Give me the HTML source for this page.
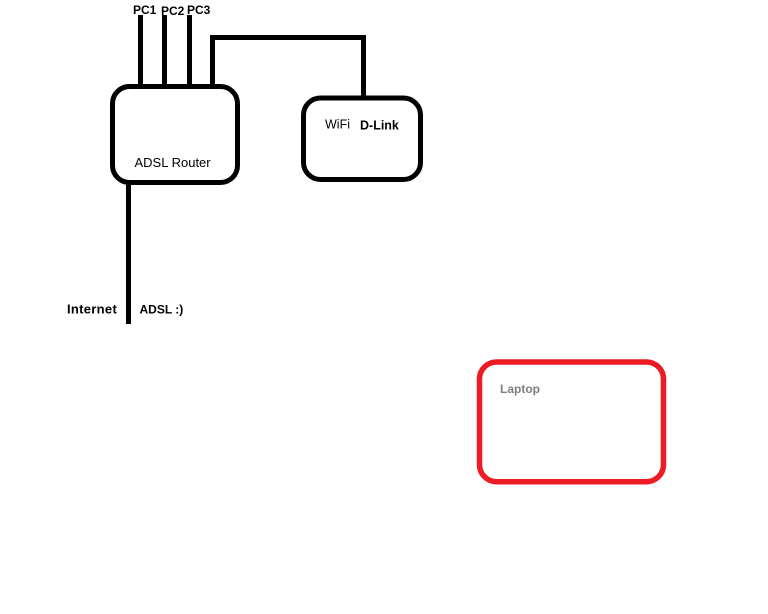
<!DOCTYPE html>
<html>
<head>
<meta charset="utf-8">
<style>
  html, body { margin: 0; padding: 0; background: #ffffff; }
  body { width: 768px; height: 614px; overflow: hidden; }
  svg { display: block; }
  text { font-family: "Liberation Sans", sans-serif; }
</style>
</head>
<body>
<svg width="768" height="614" viewBox="0 0 768 614" xmlns="http://www.w3.org/2000/svg">
  <rect x="0" y="0" width="768" height="614" fill="#ffffff"/>

  <!-- PC lines -->
  <line x1="140.5" y1="15" x2="140.5" y2="87" stroke="#000" stroke-width="5"/>
  <line x1="164.5" y1="15" x2="164.5" y2="87" stroke="#000" stroke-width="5"/>
  <line x1="189.5" y1="15" x2="189.5" y2="87" stroke="#000" stroke-width="5"/>

  <!-- Link to WiFi -->
  <polyline points="212.5,87 212.5,37.5 363.5,37.5 363.5,98" fill="none" stroke="#000" stroke-width="5" stroke-linejoin="miter"/>

  <!-- ADSL Router box -->
  <rect x="112.5" y="86.5" width="125" height="96" rx="17" ry="17" fill="#fff" stroke="#000" stroke-width="5"/>

  <!-- WiFi box -->
  <rect x="303.5" y="98" width="117" height="81.5" rx="17" ry="17" fill="#fff" stroke="#000" stroke-width="5"/>

  <!-- Internet line -->
  <line x1="128.5" y1="183" x2="128.5" y2="324" stroke="#000" stroke-width="5"/>

  <!-- Laptop box -->
  <rect x="479.5" y="362" width="184" height="119.7" rx="17" ry="17" fill="#fff" stroke="#ED1C24" stroke-width="5.5"/>

  <!-- Labels -->
  <text x="133" y="14" font-size="12" font-weight="bold" fill="#000">PC1</text>
  <text x="161" y="15" font-size="12" font-weight="bold" fill="#000">PC2</text>
  <text x="187" y="14" font-size="12" font-weight="bold" fill="#000">PC3</text>

  <text x="134.5" y="167" font-size="13" fill="#000">ADSL Router</text>

  <text x="325" y="128.5" font-size="12.5" fill="#000">WiFi</text>
  <text x="360" y="129.5" font-size="12.5" font-weight="bold" fill="#000">D-Link</text>

  <text x="67" y="313.5" font-size="13" font-weight="bold" fill="#000" letter-spacing="0.3">Internet</text>
  <text x="139.5" y="313.5" font-size="12" font-weight="bold" fill="#000">ADSL :)</text>

  <text x="500" y="393" font-size="12" font-weight="bold" fill="#7f7f7f">Laptop</text>
</svg>
</body>
</html>
